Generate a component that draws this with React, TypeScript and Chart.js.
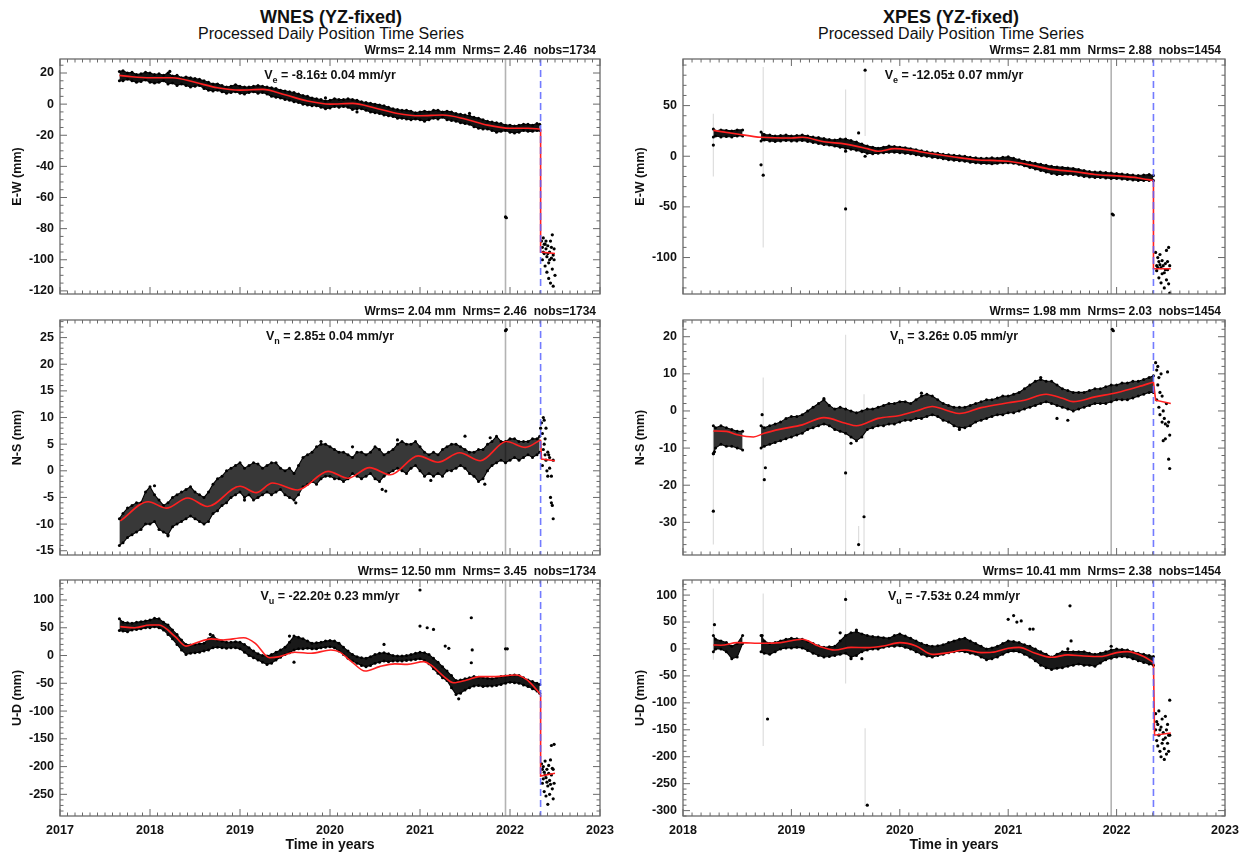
import React, { useEffect, useRef } from "react";
import { Chart, registerables } from "chart.js";

Chart.register(...registerables);

const FONT = '"Liberation Sans", Helvetica, Arial, sans-serif';
const INK = "#111111";
const RED = "#ff2020";

// ---------- text ----------
const stationTitles = ["WNES (YZ-fixed)", "XPES (YZ-fixed)"];
const subTitle = "Processed Daily Position Time Series";
const xAxisTitle = "Time in years";
const compTitles = ["E-W (mm)", "N-S (mm)", "U-D (mm)"];
const velSubs = ["e", "n", "u"];
const wnesStats = [
  "Wrms= 2.14 mm  Nrms= 2.46  nobs=1734",
  "Wrms= 2.04 mm  Nrms= 2.46  nobs=1734",
  "Wrms= 12.50 mm  Nrms= 3.45  nobs=1734",
];
const wnesVel = ["-8.16\u00b1 0.04 mm/yr", "2.85\u00b1 0.04 mm/yr", "-22.20\u00b1 0.23 mm/yr"];
const xpesStats = [
  "Wrms= 2.81 mm  Nrms= 2.88  nobs=1454",
  "Wrms= 1.98 mm  Nrms= 2.03  nobs=1454",
  "Wrms= 10.41 mm  Nrms= 2.38  nobs=1454",
];
const xpesVel = ["-12.05\u00b1 0.07 mm/yr", "3.26\u00b1 0.05 mm/yr", "-7.53\u00b1 0.24 mm/yr"];

// ---------- axes ----------
const wnesXTicks = [2017, 2018, 2019, 2020, 2021, 2022, 2023];
const xpesXTicks = [2018, 2019, 2020, 2021, 2022, 2023];
const wnesEWTicks = [-120, -100, -80, -60, -40, -20, 0, 20];
const wnesNSTicks = [-15, -10, -5, 0, 5, 10, 15, 20, 25];
const wnesUDTicks = [-250, -200, -150, -100, -50, 0, 50, 100];
const xpesEWTicks = [-100, -50, 0, 50];
const xpesNSTicks = [-30, -20, -10, 0, 10, 20];
const xpesUDTicks = [-300, -250, -200, -150, -100, -50, 0, 50, 100];

const grayLineYear = 2021.95;
const eventYear = 2022.34;

// ---------- WNES data (daily cloud: lower / upper extent per sample time) ----------
const wnesT = [
  2017.66, 2017.7, 2017.75, 2017.8, 2017.85, 2017.9, 2017.95, 2018.0, 2018.05, 2018.1,
  2018.15, 2018.2, 2018.25, 2018.3, 2018.35, 2018.4, 2018.45, 2018.5, 2018.55, 2018.6,
  2018.65, 2018.7, 2018.75, 2018.8, 2018.85, 2018.9, 2018.95, 2019.0, 2019.05, 2019.1,
  2019.15, 2019.2, 2019.25, 2019.3, 2019.35, 2019.4, 2019.45, 2019.5, 2019.55, 2019.6,
  2019.65, 2019.7, 2019.75, 2019.8, 2019.85, 2019.9, 2019.95, 2020.0, 2020.05, 2020.1,
  2020.15, 2020.2, 2020.25, 2020.3, 2020.35, 2020.4, 2020.45, 2020.5, 2020.55, 2020.6,
  2020.65, 2020.7, 2020.75, 2020.8, 2020.85, 2020.9, 2020.95, 2021.0, 2021.05, 2021.1,
  2021.15, 2021.2, 2021.25, 2021.3, 2021.35, 2021.4, 2021.45, 2021.5, 2021.55, 2021.6,
  2021.65, 2021.7, 2021.75, 2021.8, 2021.85, 2021.9, 2021.95, 2022.0, 2022.05, 2022.1,
  2022.15, 2022.2, 2022.25, 2022.3, 2022.33,
];

const wnesEWlo = [
  15, 15, 16, 15, 14, 14.5, 15.5, 14, 13.5, 14,
  15, 13, 13.5, 12, 13, 12, 11, 11.5, 12, 10,
  9, 8.5, 9, 8, 7, 7.5, 8, 7, 6.5, 7.5,
  8, 7, 7.5, 6.5, 5, 4.5, 4, 3, 2.5, 1.5,
  1, 0, -0.5, -1, -1, -2, -3, -2.5, -1.5, -2,
  -1.5, -2, -3.5, -3, -3, -4, -5, -5.5, -6, -7,
  -7.5, -8, -9, -9, -9.5, -10, -9.5, -10, -11, -10,
  -9, -9.5, -8.5, -10, -10.5, -11, -12, -12.5, -13, -14.5,
  -15.5, -16, -16, -17, -18, -17.5, -17, -18, -18.5, -18,
  -17, -17.5, -17.5, -17, -17,
];
const wnesEWhi = [
  21, 21.5, 20, 20.5, 19, 19.5, 20.5, 20, 19, 19.5,
  18.5, 20, 18, 18.5, 17, 17.5, 17, 16.5, 16, 15,
  14, 13, 13, 12, 11, 11.5, 12.5, 11.5, 11, 11,
  11.5, 12, 11.5, 11, 10.5, 10, 9, 8.5, 8, 7.5,
  6.5, 5.5, 5, 4, 3.5, 3, 2, 2.5, 3.5, 3,
  3, 3.5, 3, 2.5, 1.5, 1, 0.5, 0, -0.5, -1,
  -2, -3, -3.5, -4, -4, -4.5, -5.5, -5, -4.5, -5,
  -4, -4, -5, -4.5, -5, -6, -6.5, -7, -7.5, -8.5,
  -9, -10, -11, -11.5, -12, -12.5, -13.5, -13.5, -14, -13.5,
  -13, -13, -13.5, -12.5, -13,
];
const wnesEWmodel = [[2017.66, 18.5], [2017.8, 17.6], [2018.0, 17], [2018.25, 17], [2018.5, 14], [2018.75, 10.5], [2019.0, 9], [2019.25, 9.5], [2019.5, 6], [2019.75, 2], [2020.0, 0], [2020.25, 0.5], [2020.5, -2.5], [2020.75, -6], [2021.0, -7.5], [2021.25, -7], [2021.5, -9.5], [2021.75, -13.5], [2022.0, -15.5], [2022.2, -15.5], [2022.34, -16]];
const wnesEWjump = [[2022.34, -16], [2022.34, -95], [2022.5, -96]];
const wnesEWextra = [[2021.95, -72.5], [2021.96, -73], [2018.22, 21], [2019.95, 4], [2020.3, -5], [2021.55, -6], [2022.35, -88], [2022.36, -92], [2022.36, -100], [2022.37, -86], [2022.37, -95], [2022.38, -96], [2022.38, -90], [2022.39, -90], [2022.39, -104], [2022.4, -93], [2022.4, -88], [2022.41, -98], [2022.41, -108], [2022.42, -91], [2022.42, -96], [2022.43, -102], [2022.43, -112], [2022.44, -95], [2022.44, -100], [2022.45, -88], [2022.45, -115], [2022.46, -99], [2022.46, -92], [2022.47, -84], [2022.47, -106], [2022.48, -117], [2022.48, -97], [2022.49, -93], [2022.49, -100], [2022.5, -110]];

const wnesNSlo = [
  -14, -13.5, -12.5, -12, -11.5, -11, -10, -10, -9.5, -11,
  -11.5, -12, -10.5, -10, -9.5, -9, -8.5, -9, -9.5, -10,
  -9.5, -8, -7.5, -6.5, -6, -5, -4.5, -4, -5, -4.5,
  -5.5, -5, -4.5, -4, -4.5, -4, -3.5, -4.5, -5, -5.5,
  -4.5, -3, -2.5, -2, -2.5, -1.5, -1, -1, -1.5, -1.5,
  -2, -1.5, -0.5, -1, -1.5, -1, -0.5, -1.5, -2, -1,
  -0.5, 0, 0.5, 0, -0.5, 0.5, 1, 0, -1, -0.5,
  -1, -0.5, -1, 0, 0, 0.5, 1, 0.5, -0.5, -1,
  -2, -1.5, 0, 1, 1.5, 2, 1.5, 2, 2.5, 2,
  2.5, 3, 2.5, 3, 3.5,
];
const wnesNShi = [
  -9, -8, -7, -6.5, -6, -6, -4, -3, -4.5, -5.5,
  -6.5, -6, -5, -4.5, -4, -3.5, -3, -4, -4.5, -5,
  -4, -2.5, -1.5, -1, 0, 0.5, 1, 1.5, 0.5, 1,
  1.5, 1.3, 0.5, 1, 1.5, 1.5, 0.5, 0, 0.5, -0.5,
  1, 2.5, 3, 3.5, 4.5, 5, 5, 4.5, 4, 3.5,
  3.5, 3, 2.5, 3.5, 3.5, 3, 3.5, 4.5, 4, 3,
  3.5, 4, 5, 5.5, 5, 5, 5.5, 4.5, 3.5, 3,
  3.5, 3, 4, 4.5, 5, 5, 4.5, 4, 3.5, 3.5,
  4, 4, 5, 5.5, 6.5, 5.5, 5.5, 6, 6, 5.5,
  5.5, 5.5, 6, 6, 6.5,
];
const wnesNSmodel = [[2017.67, -9.4], [2017.98, -5.8], [2018.18, -7], [2018.42, -5.1], [2018.64, -6.7], [2019.0, -2.9], [2019.18, -4.1], [2019.36, -2.3], [2019.64, -3.6], [2019.98, -0.1], [2020.2, -1.4], [2020.44, 0.6], [2020.67, -0.75], [2020.98, 2.8], [2021.2, 1.6], [2021.44, 3.4], [2021.67, 1.9], [2021.96, 5.5], [2022.17, 4.4], [2022.34, 5.8]];
const wnesNSjump = [[2022.34, 5.8], [2022.35, 2.2], [2022.5, 1.9]];
const wnesNSextra = [[2021.95, 26.3], [2021.96, 26.5], [2020.58, -3.5], [2020.62, -3.8], [2019.9, 5.5], [2020.75, 5.8], [2021.5, 6.5], [2018.05, -2.8], [2018.2, -12.2], [2019.05, -5.5], [2019.62, -6], [2020.25, 4.5], [2021.12, -1.8], [2021.72, -2.5], [2021.78, 6.2], [2022.34, 8], [2022.35, 9], [2022.36, 7], [2022.36, 1], [2022.37, 4], [2022.37, 10], [2022.38, 9.5], [2022.38, 5], [2022.39, 6], [2022.39, 3], [2022.4, 2], [2022.4, 8], [2022.41, 0], [2022.42, -1], [2022.42, 3.5], [2022.43, 3], [2022.44, 2.5], [2022.44, 0.5], [2022.45, -5], [2022.46, -6], [2022.46, -1], [2022.47, -6.5], [2022.48, -9], [2022.48, 2]];

const wnesUDlo = [
  45, 44, 43, 46, 47, 48, 50, 50, 52, 50,
  46, 38, 30, 20, 10, 2, 4, 5, 6, 8,
  10, 14, 15, 14, 13, 14, 14, 12, 6, 0,
  -4, -8, -12, -16, -14, -8, -3, 2, 5, 10,
  12, 12, 13, 12, 12, 14, 15, 16, 14, 8,
  2, -5, -10, -14, -18, -20, -18, -14, -12, -10,
  -11, -10, -10, -10, -9, -8, -7, -6, -9, -15,
  -24, -32, -40, -45, -58, -70, -68, -62, -58, -55,
  -54, -56, -55, -55, -54, -52, -50, -48, -49, -50,
  -53, -56, -60, -64, -68,
];
const wnesUDhi = [
  66, 60, 59, 58, 60, 61, 62, 64, 67, 66,
  60, 55, 46, 38, 28, 20, 19, 20, 21, 22,
  30, 36, 28, 26, 24, 24, 25, 24, 20, 14,
  8, 3, 0, -1, 2, 6, 10, 15, 24, 35,
  33, 30, 26, 22, 23, 24, 26, 27, 26, 22,
  15, 8, 2, -2, -4, -5, -2, 2, 4, 5,
  3, 0, -1, -1, 0, 2, 4, 6, 5, 2,
  -5, -12, -20, -28, -36, -45, -44, -42, -40, -38,
  -39, -40, -41, -42, -40, -38, -37, -36, -35, -36,
  -40, -44, -47, -50, -52,
];
const wnesUDmodel = [[2017.67, 52], [2017.83, 50], [2018.0, 55], [2018.1, 55], [2018.28, 34], [2018.4, 17], [2018.5, 22], [2018.68, 30], [2018.81, 28], [2019.04, 32], [2019.17, 22], [2019.33, -4], [2019.44, -2], [2019.61, 6], [2019.79, 4], [2020.01, 10], [2020.1, 7], [2020.24, -11], [2020.39, -28], [2020.55, -20], [2020.72, -15], [2020.86, -16], [2021.04, -11], [2021.12, -17], [2021.26, -37], [2021.37, -49], [2021.52, -44], [2021.66, -38], [2021.84, -38], [2022.06, -35], [2022.19, -44], [2022.34, -70]];
const wnesUDjump = [[2022.34, -70], [2022.34, -217], [2022.5, -212]];
const wnesUDextra = [[2021.0, 118], [2021.0, 53], [2021.08, 50], [2021.15, 47], [2021.28, 17], [2021.32, 13], [2021.57, 68], [2021.58, 10], [2021.57, -13], [2021.95, 12], [2021.97, 12], [2019.6, -12], [2019.55, 35], [2018.67, 38], [2020.6, 20], [2021.43, -78], [2022.35, -195], [2022.36, -230], [2022.36, -205], [2022.37, -200], [2022.37, -222], [2022.38, -210], [2022.38, -245], [2022.39, -190], [2022.39, -215], [2022.4, -220], [2022.4, -253], [2022.41, -205], [2022.41, -228], [2022.42, -235], [2022.42, -268], [2022.43, -198], [2022.43, -212], [2022.44, -225], [2022.44, -250], [2022.45, -188], [2022.45, -232], [2022.46, -162], [2022.46, -215], [2022.47, -240], [2022.47, -203], [2022.48, -205], [2022.48, -258], [2022.49, -160], [2022.49, -230]];

// ---------- XPES data ----------
const xpesT = [
  2018.28, 2018.3, 2018.35, 2018.4, 2018.45, 2018.5, 2018.55, 2018.72, 2018.75, 2018.8,
  2018.85, 2018.9, 2018.95, 2019.0, 2019.05, 2019.1, 2019.15, 2019.2, 2019.25, 2019.3,
  2019.35, 2019.4, 2019.45, 2019.5, 2019.55, 2019.6, 2019.65, 2019.7, 2019.75, 2019.8,
  2019.85, 2019.9, 2019.95, 2020.0, 2020.05, 2020.1, 2020.15, 2020.2, 2020.25, 2020.3,
  2020.35, 2020.4, 2020.45, 2020.5, 2020.55, 2020.6, 2020.65, 2020.7, 2020.75, 2020.8,
  2020.85, 2020.9, 2020.95, 2021.0, 2021.05, 2021.1, 2021.15, 2021.2, 2021.25, 2021.3,
  2021.35, 2021.4, 2021.45, 2021.5, 2021.55, 2021.6, 2021.65, 2021.7, 2021.75, 2021.8,
  2021.85, 2021.9, 2021.95, 2022.0, 2022.05, 2022.1, 2022.15, 2022.2, 2022.25, 2022.3,
  2022.34,
];

const xpesEWlo = [
  19, 20, 19, 19.5, 19, 20, 20, 15, 16, 15,
  14.5, 15, 15.5, 15, 15, 15.5, 14.5, 13.5, 12.5, 11.5,
  11, 10, 9, 8, 7, 6, 4.5, 3, 2.5, 3,
  3.5, 4, 4, 3.5, 3, 2.5, 1.5, 0.5, 0, -1,
  -1.5, -2.5, -3.5, -4, -4.5, -5, -6, -6.5, -7, -7,
  -7.5, -7, -6.5, -6.5, -7, -8, -9.5, -11, -12.5, -14,
  -15.5, -17, -18, -18, -17.5, -18, -19, -20, -20.5, -21,
  -21, -21.5, -22, -22, -22.5, -23, -23.5, -24, -24, -24,
  -24,
];
const xpesEWhi = [
  27, 25, 26, 25.5, 25, 26, 26, 24, 21.5, 21,
  20, 20.5, 21, 20, 20.5, 21, 20, 19, 18.5, 17.5,
  16.5, 16, 17, 17, 15.5, 14, 12, 10, 9, 8,
  9, 10, 9.5, 9, 8.5, 7.5, 6.5, 5.5, 4.5, 3.5,
  3, 2, 1.5, 1, 0.5, 0, -1, -1.5, -2, -2,
  -1.5, -2, -1, -0.5, -2, -3.5, -5, -6, -7, -8,
  -9, -10, -10.5, -11, -11.5, -12, -13, -14, -15, -15.5,
  -15.5, -16, -16.5, -17, -17.5, -18, -18.5, -19, -18.5, -18,
  -19,
];
const xpesEWmodel = [[2018.28, 25.5], [2018.5, 22], [2018.72, 18.7], [2019.0, 18], [2019.1, 18.7], [2019.3, 14.3], [2019.5, 12], [2019.7, 7.5], [2019.8, 5], [2019.95, 7.5], [2020.1, 6], [2020.3, 2.4], [2020.5, -0.7], [2020.7, -3.4], [2021.0, -5], [2021.2, -8.5], [2021.4, -13], [2021.6, -15], [2021.8, -18], [2022.0, -19.4], [2022.2, -21.4], [2022.34, -24]];
const xpesEWjump = [[2022.34, -24], [2022.34, -111], [2022.5, -111]];
const xpesEWextra = [[2018.28, 11], [2018.72, -8.5], [2018.74, -18.7], [2019.5, -52], [2019.5, 5], [2019.62, 23], [2019.68, 85], [2019.68, 0], [2021.96, -57], [2021.97, -58], [2022.36, -95], [2022.37, -108], [2022.37, -113], [2022.38, -100], [2022.38, -110], [2022.39, -104], [2022.39, -120], [2022.4, -97], [2022.4, -107], [2022.41, -110], [2022.41, -125], [2022.42, -103], [2022.42, -116], [2022.43, -108], [2022.44, -130], [2022.44, -115], [2022.45, -106], [2022.45, -112], [2022.46, -93], [2022.46, -122], [2022.47, -112], [2022.47, -104], [2022.48, -90], [2022.48, -126], [2022.49, -135], [2022.49, -108]];
const xpesEWbars = [[2018.28, -20, 42], [2018.74, -90, 88], [2019.5, -136, 66], [2019.68, 20, 85]];

const xpesNSlo = [
  -11.5, -10, -9, -9.5, -9.5, -10, -10.5, -10, -9.5, -9,
  -8.5, -8, -7.5, -7, -6.5, -6, -5, -4.5, -4, -3.5,
  -4, -5, -5.5, -6, -7, -8, -7, -5, -4.5, -4,
  -4, -3.5, -3.5, -3, -2.5, -2.5, -2, -2, -1.5, -1,
  -1.5, -2.5, -3, -4, -4.5, -4.5, -4, -3, -2.5, -2,
  -1.5, -1, -1, -0.5, -0.5, 0, 0.5, 1, 1.5, 2,
  2.5, 2, 1.5, 1, 0.5, 0, 0.5, 1, 1.5, 2,
  2, 2, 2.5, 3, 3, 3, 3.5, 4, 4.5, 5,
  5,
];
const xpesNShi = [
  -4, -4.5, -4, -4.5, -5, -5.5, -5.5, -4, -4.5, -4,
  -3.5, -3, -2, -1.5, -1.5, -1, 0, 1, 2, 3,
  1.5, 0.5, 1, 0.5, 0, -0.5, 0, 0.5, 0.5, 1,
  1.5, 2, 2, 2.5, 2.5, 2, 3, 4, 4.5, 4,
  3, 2, 1.5, 1, 1, 1, 1.5, 2, 2.5, 3,
  3, 3.5, 4, 4, 4.5, 5, 6, 7, 8, 8.5,
  8, 8, 7, 6, 5.5, 5, 5, 5, 5.5, 6,
  6, 6.5, 7, 7, 7.5, 7.5, 8, 8, 8.5, 9,
  9.5,
];
const xpesNSmodel = [[2018.28, -5.4], [2018.4, -5.5], [2018.5, -6.4], [2018.65, -7], [2018.75, -6], [2018.9, -4.9], [2019.1, -3.75], [2019.3, -1.8], [2019.5, -3.3], [2019.6, -4], [2019.8, -2], [2020.0, -1.2], [2020.15, 0], [2020.3, 1.2], [2020.45, 0], [2020.55, -0.7], [2020.75, 0.9], [2021.0, 2.2], [2021.15, 2.9], [2021.35, 4.5], [2021.5, 3.4], [2021.6, 2.5], [2021.8, 3.8], [2022.0, 4.9], [2022.2, 6.5], [2022.34, 7.8]];
const xpesNSjump = [[2022.34, 7.8], [2022.36, 2.9], [2022.5, 2]];
const xpesNSextra = [[2018.28, -27], [2018.28, -11.5], [2018.29, -11], [2018.75, -18.5], [2018.76, -15.3], [2018.73, -1], [2019.5, -16.7], [2019.62, -36], [2019.67, -28.5], [2019.55, -8.7], [2021.96, 22], [2021.97, 21.6], [2021.45, -2], [2021.55, -2.5], [2019.3, 3.3], [2021.3, 9], [2020.2, 4.8], [2020.55, -5], [2022.36, 13], [2022.37, 11], [2022.37, 3], [2022.38, 12], [2022.38, 7], [2022.39, 9], [2022.39, 1], [2022.4, -1], [2022.4, 5], [2022.41, 10], [2022.42, 4], [2022.42, -3], [2022.43, -8], [2022.43, 0], [2022.44, -2], [2022.45, -7.5], [2022.45, -3.5], [2022.46, 2], [2022.47, -4], [2022.48, -3], [2022.48, -13], [2022.49, -15.5], [2022.49, -6.5], [2022.47, 10.5]];
const xpesNSbars = [[2018.28, -36, -5.4], [2018.74, -39, 9], [2019.5, -39, 20.5], [2019.67, -39, 4.5], [2019.62, -36, -31]];

const xpesUDlo = [
  -5, 0, 0, -5, -18, -15, 10, -5, -8, -10,
  -5, 0, 2, 2, 3, 2, -3, -8, -12, -15,
  -14, -12, -10, -8, -15, -12, -5, -2, 0, 0,
  3, 5, 5, 6, 3, 0, -5, -10, -13, -15,
  -12, -10, -7, -5, -4, -5, -8, -10, -15, -20,
  -18, -15, -10, -5, -4, -5, -10, -15, -22, -30,
  -35, -38, -36, -35, -32, -30, -28, -30, -30, -32,
  -26, -20, -17, -15, -14, -15, -18, -22, -25, -28,
  -30,
];
const xpesUDhi = [
  25, 18, 15, 12, 5, 10, 25, 25, 15, 10,
  12, 15, 18, 20, 19, 18, 14, 10, 6, 3,
  4, 5, 15, 25, 30, 32, 28, 25, 23, 22,
  21, 20, 25, 28, 24, 20, 15, 10, 7, 5,
  6, 8, 12, 15, 18, 20, 15, 10, 5, 0,
  2, 5, 10, 15, 14, 12, 8, 5, 0, -5,
  -10, -15, -10, -5, -5, -5, -5, -5, -8, -10,
  -8, -5, -2, 0, -1, -2, -5, -8, -10, -12,
  -14,
];
const xpesUDmodel = [[2018.28, 7.4], [2018.35, 7], [2018.5, 11.7], [2018.75, 10.5], [2018.9, 11.7], [2019.1, 18], [2019.25, 5.6], [2019.4, -1.9], [2019.55, 3], [2019.7, 2.5], [2019.85, 5.6], [2020.0, 11.7], [2020.15, 5.6], [2020.3, -10], [2020.45, -6.8], [2020.6, -1.9], [2020.75, -6.8], [2020.85, -6.2], [2021.0, 1.2], [2021.1, 3], [2021.25, -8], [2021.4, -15.5], [2021.55, -11], [2021.7, -13], [2021.85, -14], [2022.0, -6.8], [2022.1, -5], [2022.25, -14], [2022.34, -25]];
const xpesUDjump = [[2022.34, -25], [2022.35, -160], [2022.5, -156]];
const xpesUDextra = [[2018.29, 45], [2018.78, -130], [2019.5, 92], [2019.7, -290], [2021.0, 55], [2021.05, 62], [2021.08, 50], [2021.12, 52], [2021.2, 37], [2021.23, 37], [2021.57, 80], [2021.58, 15], [2021.55, 0], [2021.95, 5], [2019.45, 30], [2019.55, -18], [2019.65, -18], [2018.73, 25], [2019.6, 35], [2022.36, -120], [2022.36, -150], [2022.37, -170], [2022.37, -135], [2022.38, -140], [2022.38, -180], [2022.39, -115], [2022.39, -160], [2022.4, -190], [2022.4, -150], [2022.41, -145], [2022.41, -200], [2022.42, -130], [2022.42, -175], [2022.43, -155], [2022.43, -168], [2022.44, -185], [2022.44, -205], [2022.45, -125], [2022.45, -165], [2022.46, -195], [2022.46, -150], [2022.47, -140], [2022.47, -175], [2022.48, -190], [2022.48, -160], [2022.49, -95], [2022.49, -160]];
const xpesUDbars = [[2018.28, -20, 112], [2018.74, -180, 103], [2019.5, -64, 109], [2019.68, -292, -147]];

// ---------- panel specs ----------
const specs = [
  { col: 0, row: 0, t: wnesT, lo: wnesEWlo, hi: wnesEWhi, model: wnesEWmodel, jump: wnesEWjump, extra: wnesEWextra, bars: [], yMin: -122, yMax: 29, yTicks: wnesEWTicks, yMinor: 5, xMin: 2017, xMax: 2023, xTicks: wnesXTicks, yTitle: compTitles[0], stats: wnesStats[0], sub: velSubs[0], vel: wnesVel[0], alpha: 0.92 },
  { col: 0, row: 1, t: wnesT, lo: wnesNSlo, hi: wnesNShi, model: wnesNSmodel, jump: wnesNSjump, extra: wnesNSextra, bars: [], yMin: -15.8, yMax: 28.3, yTicks: wnesNSTicks, yMinor: 1, xMin: 2017, xMax: 2023, xTicks: wnesXTicks, yTitle: compTitles[1], stats: wnesStats[1], sub: velSubs[1], vel: wnesVel[1], alpha: 0.78 },
  { col: 0, row: 2, t: wnesT, lo: wnesUDlo, hi: wnesUDhi, model: wnesUDmodel, jump: wnesUDjump, extra: wnesUDextra, bars: [], yMin: -289, yMax: 136, yTicks: wnesUDTicks, yMinor: 10, xMin: 2017, xMax: 2023, xTicks: wnesXTicks, yTitle: compTitles[2], stats: wnesStats[2], sub: velSubs[2], vel: wnesVel[2], alpha: 0.9 },
  { col: 1, row: 0, t: xpesT, lo: xpesEWlo, hi: xpesEWhi, model: xpesEWmodel, jump: xpesEWjump, extra: xpesEWextra, bars: xpesEWbars, yMin: -136, yMax: 96, yTicks: xpesEWTicks, yMinor: 10, xMin: 2018, xMax: 2023, xTicks: xpesXTicks, yTitle: compTitles[0], stats: xpesStats[0], sub: velSubs[0], vel: xpesVel[0], alpha: 0.92 },
  { col: 1, row: 1, t: xpesT, lo: xpesNSlo, hi: xpesNShi, model: xpesNSmodel, jump: xpesNSjump, extra: xpesNSextra, bars: xpesNSbars, yMin: -38.8, yMax: 24.5, yTicks: xpesNSTicks, yMinor: 2, xMin: 2018, xMax: 2023, xTicks: xpesXTicks, yTitle: compTitles[1], stats: xpesStats[1], sub: velSubs[1], vel: xpesVel[1], alpha: 0.8 },
  { col: 1, row: 2, t: xpesT, lo: xpesUDlo, hi: xpesUDhi, model: xpesUDmodel, jump: xpesUDjump, extra: xpesUDextra, bars: xpesUDbars, yMin: -310, yMax: 128, yTicks: xpesUDTicks, yMinor: 10, xMin: 2018, xMax: 2023, xTicks: xpesXTicks, yTitle: compTitles[2], stats: xpesStats[2], sub: velSubs[2], vel: xpesVel[2], alpha: 0.9 },
];

const COLS = [
  { cx: 0, cw: 620, L: 60, R: 600, titlePad: 10.5 },
  { cx: 620, cw: 621, L: 683, R: 1225, titlePad: 13.5 },
];
const ROWS = [
  { cy: 40, ch: 260, T: 59, B: 294, bottom: false },
  { cy: 300, ch: 260, T: 320, B: 555, bottom: false },
  { cy: 560, ch: 296, T: 580, B: 816, bottom: true },
];

function toXY(arr: number[][]) {
  return arr.map(([x, y]) => ({ x, y }));
}

function makeDecor(s: any) {
  return {
    id: "idlDecor",
    beforeDatasetsDraw(chart: any) {
      const { ctx, chartArea: a, scales } = chart;
      const gx = scales.x.getPixelForValue(grayLineYear);
      ctx.save();
      ctx.strokeStyle = "#b3b3b3";
      ctx.lineWidth = 1.6;
      ctx.beginPath();
      ctx.moveTo(gx, a.top);
      ctx.lineTo(gx, a.bottom);
      ctx.stroke();
      ctx.restore();
    },
    afterDatasetsDraw(chart: any) {
      const { ctx, chartArea: a, scales } = chart;
      const bx = scales.x.getPixelForValue(eventYear);
      ctx.save();
      ctx.strokeStyle = "rgba(90,100,255,0.85)";
      ctx.lineWidth = 1.6;
      ctx.setLineDash([7, 4]);
      ctx.beginPath();
      ctx.moveTo(bx, a.top);
      ctx.lineTo(bx, a.bottom);
      ctx.stroke();
      ctx.restore();
    },
    afterDraw(chart: any) {
      const { ctx, chartArea: a, scales } = chart;
      const x = scales.x;
      const y = scales.y;
      ctx.save();
      ctx.strokeStyle = "#6a6a6a";
      ctx.lineWidth = 1.3;
      const seg = (x1: number, y1: number, x2: number, y2: number) => {
        ctx.beginPath();
        ctx.moveTo(x1, y1);
        ctx.lineTo(x2, y2);
        ctx.stroke();
      };
      ctx.strokeRect(a.left, a.top, a.right - a.left, a.bottom - a.top);
      ctx.lineWidth = 1;
      for (let yr = s.xMin; yr <= s.xMax; yr++) {
        const px = x.getPixelForValue(yr);
        seg(px, a.bottom, px, a.bottom - 7);
        seg(px, a.top, px, a.top + 7);
        if (yr < s.xMax) {
          for (let m = 1; m < 12; m++) {
            const mx = x.getPixelForValue(yr + m / 12);
            seg(mx, a.bottom, mx, a.bottom - 3.5);
            seg(mx, a.top, mx, a.top + 3.5);
          }
        }
      }
      const st = s.yMinor;
      for (let k = Math.ceil(s.yMin / st); k * st <= s.yMax; k++) {
        const v = k * st;
        const py = y.getPixelForValue(v);
        const major = s.yTicks.some((t: number) => Math.abs(t - v) < 1e-6);
        const len = major ? 7 : 3.5;
        seg(a.left, py, a.left + len, py);
        seg(a.right, py, a.right - len, py);
      }
      ctx.fillStyle = INK;
      ctx.textBaseline = "alphabetic";
      ctx.font = `bold 12px ${FONT}`;
      ctx.textAlign = "right";
      ctx.fillText(s.stats, a.right - 4, a.top - 5);
      ctx.textAlign = "left";
      const big = `bold 12.5px ${FONT}`;
      const small = `bold 9px ${FONT}`;
      const rest = ` = ${s.vel}`;
      ctx.font = big;
      const w1 = ctx.measureText("V").width;
      const w3 = ctx.measureText(rest).width;
      ctx.font = small;
      const w2 = ctx.measureText(s.sub).width;
      const cxm = (a.left + a.right) / 2;
      const by = a.top + 20;
      const x0 = cxm - (w1 + w2 + w3) / 2;
      ctx.font = big;
      ctx.fillText("V", x0, by);
      ctx.font = small;
      ctx.fillText(s.sub, x0 + w1, by + 4);
      ctx.font = big;
      ctx.fillText(rest, x0 + w1 + w2, by);
      ctx.restore();
    },
  };
}

function makeConfig(s: any) {
  const col = COLS[s.col];
  const row = ROWS[s.row];
  const datasets: any[] = [];
  datasets.push({ data: toXY(s.model), borderColor: RED, borderWidth: 1.6, pointRadius: 0, cubicInterpolationMode: "monotone", fill: false, order: 0 });
  datasets.push({ data: toXY(s.jump), borderColor: RED, borderWidth: 1.6, pointRadius: 0, tension: 0, fill: false, order: 0 });
  datasets.push({ data: toXY(s.extra), showLine: false, pointRadius: 1.6, pointBackgroundColor: "#000", pointBorderWidth: 0, order: 1 });
  const segs: number[][] = [];
  let cur: number[] = [];
  s.t.forEach((tv: number, i: number) => {
    if (i > 0 && tv - s.t[i - 1] > 0.12) {
      segs.push(cur);
      cur = [];
    }
    cur.push(i);
  });
  segs.push(cur);
  segs.forEach((idx) => {
    datasets.push({
      data: idx.map((i) => ({ x: s.t[i], y: s.lo[i] })),
      borderColor: "#000", borderWidth: 1.1, pointRadius: 1.5, pointBackgroundColor: "#000", pointBorderWidth: 0,
      tension: 0, fill: false, order: 2,
    });
    datasets.push({
      data: idx.map((i) => ({ x: s.t[i], y: s.hi[i] })),
      borderColor: "#000", borderWidth: 1.1, pointRadius: 1.5, pointBackgroundColor: "#000", pointBorderWidth: 0,
      tension: 0, fill: "-1", backgroundColor: `rgba(0,0,0,${s.alpha})`, order: 2,
    });
  });
  if (s.bars.length) {
    const d: any[] = [];
    s.bars.forEach(([bx, b0, b1]: number[]) => {
      d.push({ x: bx, y: b0 }, { x: bx, y: b1 }, { x: bx, y: null });
    });
    datasets.push({ data: d, borderColor: "#dedede", borderWidth: 1.2, pointRadius: 0, spanGaps: false, fill: false, order: 3 });
  }

  const tickFont = { family: FONT, size: 12.5, weight: "bold" as const };
  return {
    type: "line" as const,
    data: { datasets },
    options: {
      animation: false as const,
      responsive: false,
      events: [],
      layout: {
        autoPadding: false,
        padding: {
          left: 0,
          right: col.cx + col.cw - col.R,
          top: row.T - row.cy,
          bottom: row.bottom ? 0 : row.cy + row.ch - row.B,
        },
      },
      plugins: { legend: { display: false }, tooltip: { enabled: false }, title: { display: false } },
      scales: {
        x: {
          type: "linear" as const,
          min: s.xMin,
          max: s.xMax,
          afterBuildTicks: (sc: any) => { sc.ticks = s.xTicks.map((v: number) => ({ value: v })); },
          afterFit: (sc: any) => {
            sc.height = row.bottom ? row.cy + row.ch - row.B : 0;
            sc.paddingLeft = 0;
            sc.paddingRight = 0;
          },
          ticks: { display: row.bottom, autoSkip: false, maxRotation: 0, padding: 7, color: INK, font: tickFont, callback: (v: any) => String(v) },
          grid: { display: false, drawTicks: false },
          border: { display: false },
          title: { display: row.bottom, text: xAxisTitle, color: INK, font: { family: FONT, size: 14, weight: "bold" as const }, padding: { top: 0, bottom: 2 } },
        },
        y: {
          type: "linear" as const,
          min: s.yMin,
          max: s.yMax,
          afterBuildTicks: (sc: any) => { sc.ticks = s.yTicks.map((v: number) => ({ value: v })); },
          afterFit: (sc: any) => {
            sc.width = col.L - col.cx;
            sc.paddingTop = 0;
            sc.paddingBottom = 0;
          },
          ticks: { padding: 6, color: INK, font: tickFont, callback: (v: any) => String(v) },
          grid: { display: false, drawTicks: false },
          border: { display: false },
          title: { display: true, text: s.yTitle, color: INK, font: { family: FONT, size: 12.5, weight: "bold" as const }, padding: { top: col.titlePad, bottom: 0 } },
        },
      },
    },
    plugins: [makeDecor(s)],
  };
}

function Panel({ s }: { s: any }) {
  const ref = useRef<HTMLCanvasElement | null>(null);
  const col = COLS[s.col];
  const row = ROWS[s.row];
  useEffect(() => {
    if (!ref.current) return;
    const chart = new Chart(ref.current, makeConfig(s) as any);
    return () => chart.destroy();
  }, []);
  return (
    <canvas
      ref={ref}
      width={col.cw}
      height={row.ch}
      style={{ position: "absolute", left: col.cx, top: row.cy, width: col.cw, height: row.ch }}
    />
  );
}

export default function App() {
  return (
    <div style={{ position: "absolute", left: 0, top: 0, width: 1241, height: 856, background: "#fff", fontFamily: FONT, color: INK, overflow: "hidden" }}>
      {stationTitles.map((t, i) => (
        <React.Fragment key={t}>
          <div style={{ position: "absolute", left: i === 0 ? 0 : 620, width: 662, top: 7, textAlign: "center", fontWeight: "bold", fontSize: 18, lineHeight: "20px" }}>{t}</div>
          <div style={{ position: "absolute", left: i === 0 ? 0 : 620, width: 662, top: 25, textAlign: "center", fontSize: 16, lineHeight: "18px" }}>{subTitle}</div>
        </React.Fragment>
      ))}
      {specs.map((s, i) => (
        <Panel key={i} s={s} />
      ))}
    </div>
  );
}
